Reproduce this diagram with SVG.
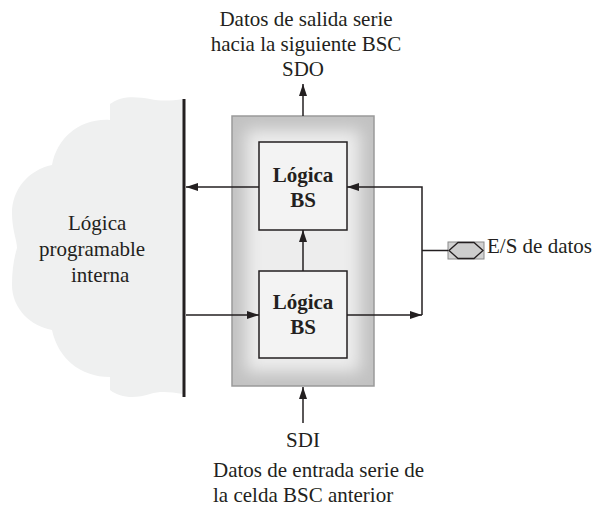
<svg xmlns="http://www.w3.org/2000/svg" width="598" height="507" viewBox="0 0 598 507">
<defs>
<style>
text{font-family:'Liberation Serif','Times New Roman',Times,'DejaVu Serif',serif;font-size:21px;fill:#231f20}
.b{font-weight:bold}
.c{text-anchor:middle}
.ln{stroke:#231f20;stroke-width:1.5;fill:none}
.box{fill:#f3f3f3;stroke:#231f20;stroke-width:1.5}
</style>
<marker id="ah" viewBox="0 0 12 8" refX="12" refY="4" markerWidth="12" markerHeight="8" markerUnits="userSpaceOnUse" orient="auto">
<path d="M0,0 L12,4 L0,8 Z" fill="#231f20"/>
</marker>
<filter id="bl" x="-30%" y="-30%" width="160%" height="160%"><feGaussianBlur stdDeviation="8"/></filter>
<clipPath id="oc"><rect x="232" y="116" width="142" height="270"/></clipPath>
</defs>

<g id="cloud">
<path d="M183,99 C170,101 160,101 150,99 C135,96 120,96 110,104 L110,120 C80,118 57,138 52,165 C28,170 12,190 12,213 C12,230 17,240 17,248 C14,258 12,270 12,285 C12,308 30,326 52,330 C58,358 80,377 110,377 L110,390 C120,398 135,399 150,394 C160,391 170,392 183,394 Z" fill="#eff0f0"/>
<text x="68" y="230" font-family="Liberation Serif, serif">Lógica</text>
<text x="39" y="256" font-family="Liberation Serif, serif">programable</text>
<text x="71" y="282" font-family="Liberation Serif, serif">interna</text>
<line x1="184" y1="99" x2="184" y2="397" stroke="#231f20" stroke-width="3"/>
</g>

<g id="bsc">
<rect x="232" y="116" width="142" height="270" fill="#c2c2c2"/>
<g clip-path="url(#oc)"><rect x="246" y="130" width="114" height="242" fill="#ededed" filter="url(#bl)"/></g>
<rect x="232" y="116" width="142" height="270" fill="none" stroke="#9a9a9a" stroke-width="1.5"/>
</g>

<g id="bs-top">
<rect class="box" x="259" y="142" width="88" height="88"/>
<text class="b c" x="303" y="182" font-family="Liberation Serif, serif">Lógica</text>
<text class="b c" x="303" y="207" font-family="Liberation Serif, serif">BS</text>
</g>

<g id="bs-bottom">
<rect class="box" x="259" y="271" width="88" height="87"/>
<text class="b c" x="303" y="309" font-family="Liberation Serif, serif">Lógica</text>
<text class="b c" x="303" y="334" font-family="Liberation Serif, serif">BS</text>
</g>

<g id="io">
<rect x="448" y="242" width="36" height="17" fill="#d2d2d2" stroke="#8a8a8a" stroke-width="1"/>
<polygon points="449,250.5 458,242.5 474,242.5 483,250.5 474,258.5 458,258.5" fill="#cdcdcd" stroke="#231f20" stroke-width="1.3"/>
<text x="487" y="253" font-family="Liberation Serif, serif">E/S de datos</text>
</g>

<g id="labels" font-family="Liberation Serif, serif">
<text class="c" x="306" y="26" font-family="Liberation Serif, serif">Datos de salida serie</text>
<text class="c" x="306" y="51" font-family="Liberation Serif, serif">hacia la siguiente BSC</text>
<text class="c" x="303" y="76" font-family="Liberation Serif, serif">SDO</text>
<text class="c" x="303" y="447" font-family="Liberation Serif, serif">SDI</text>
<text x="213" y="477" font-family="Liberation Serif, serif">Datos de entrada serie de</text>
<text x="213" y="502" font-family="Liberation Serif, serif">la celda BSC anterior</text>
</g>

<g id="connectors">
<line class="ln" x1="303" y1="116" x2="303" y2="84" marker-end="url(#ah)"/>
<line class="ln" x1="303" y1="423" x2="303" y2="387" marker-end="url(#ah)"/>
<line class="ln" x1="259" y1="187" x2="186" y2="187" marker-end="url(#ah)"/>
<line class="ln" x1="186" y1="315" x2="259" y2="315" marker-end="url(#ah)"/>
<line class="ln" x1="303" y1="271" x2="303" y2="230" marker-end="url(#ah)"/>
<line class="ln" x1="347" y1="315" x2="422" y2="315" marker-end="url(#ah)"/>
<polyline class="ln" points="422,315 422,187 347,187" marker-end="url(#ah)"/>
<line class="ln" x1="422" y1="250.5" x2="448" y2="250.5"/>
</g>
</svg>
